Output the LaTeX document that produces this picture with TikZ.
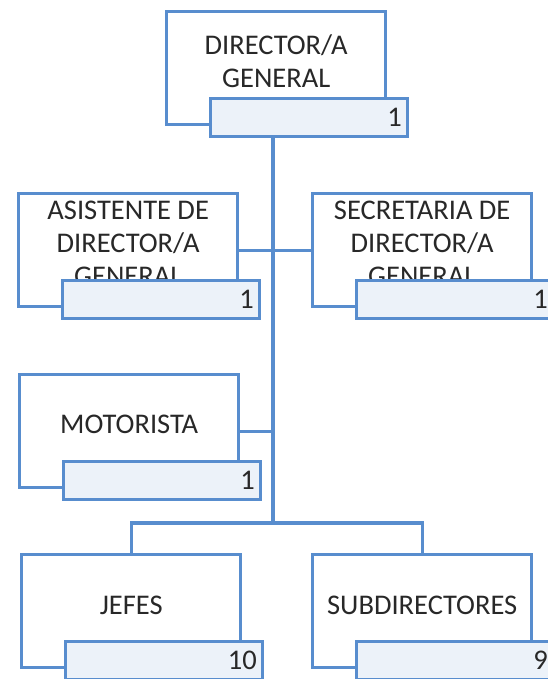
\documentclass[tikz,border=0pt]{standalone}
\usepackage{fontspec}
\setmainfont{Carlito}
\usetikzlibrary{positioning,calc}

\definecolor{marco}{RGB}{88,141,206}
\definecolor{relleno}{RGB}{236,242,249}
\definecolor{tinta}{RGB}{40,40,40}

\tikzset{
  puesto/.style={draw=marco, line width=3.4pt, fill=white, minimum width=219pt, minimum height=113pt, inner sep=0pt, anchor=north west},
  cupo/.style={draw=marco, line width=3.4pt, fill=relleno, minimum height=38pt, text width=185pt, inner xsep=6pt, inner ysep=0pt, align=right, text=tinta, font=\fontsize{28.5}{33}\selectfont},
  rotulo/.style={align=center, text=tinta, font=\fontsize{28.5}{33}\selectfont},
  enlace/.style={draw=marco, line width=3.4pt}
}

\begin{document}
\begin{tikzpicture}[x=1pt,y=-1pt]
\useasboundingbox (0,0) rectangle (548,679);

% director
\node[puesto] (dir) at (165,10) {};
\node[rotulo] (dirT) at ([yshift=7pt]dir.center) {DIRECTOR/A\\GENERAL};
\node[cupo, below right=87pt and 44pt of dir.north west] (dirN) {1};

% asistente y secretaria
\node[puesto] (asist) at (17,192) {};
\node[rotulo] (asistT) at ([yshift=7pt]asist.center) {ASISTENTE DE\\DIRECTOR/A\\GENERAL};
\node[cupo, below right=87pt and 44pt of asist.north west] (asistN) {1};

\node[puesto] (secre) at (311,192) {};
\node[rotulo] (secreT) at ([yshift=7pt]secre.center) {SECRETARIA DE\\DIRECTOR/A\\GENERAL};
\node[cupo, below right=87pt and 44pt of secre.north west] (secreN) {1};

% motorista
\node[puesto] (moto) at (18,373) {};
\node[rotulo] (motoT) at ([yshift=7pt]moto.center) {MOTORISTA};
\node[cupo, below right=87pt and 44pt of moto.north west] (motoN) {1};

% jefes y subdirectores
\node[puesto] (jefes) at (20,553) {};
\node[rotulo] (jefesT) at ([yshift=6pt]jefes.center) {JEFES};
\node[cupo, below right=87pt and 44pt of jefes.north west] (jefesN) {10};

\node[puesto] (subdir) at (311,553) {};
\node[rotulo] (subdirT) at ([yshift=6pt]subdir.center) {SUBDIRECTORES};
\node[cupo, below right=87pt and 44pt of subdir.north west] (subdirN) {9};

% lineas
\coordinate (tronco) at (273,523);
\draw[enlace] (dirN.south -| tronco) -- (tronco);
\draw[enlace] (asist.east) -- (secre.west);
\draw[enlace] (moto.east) -- (moto.east -| tronco);
\draw[enlace] (jefes.north) |- (tronco) -| (subdir.north);
\end{tikzpicture}
\end{document}
